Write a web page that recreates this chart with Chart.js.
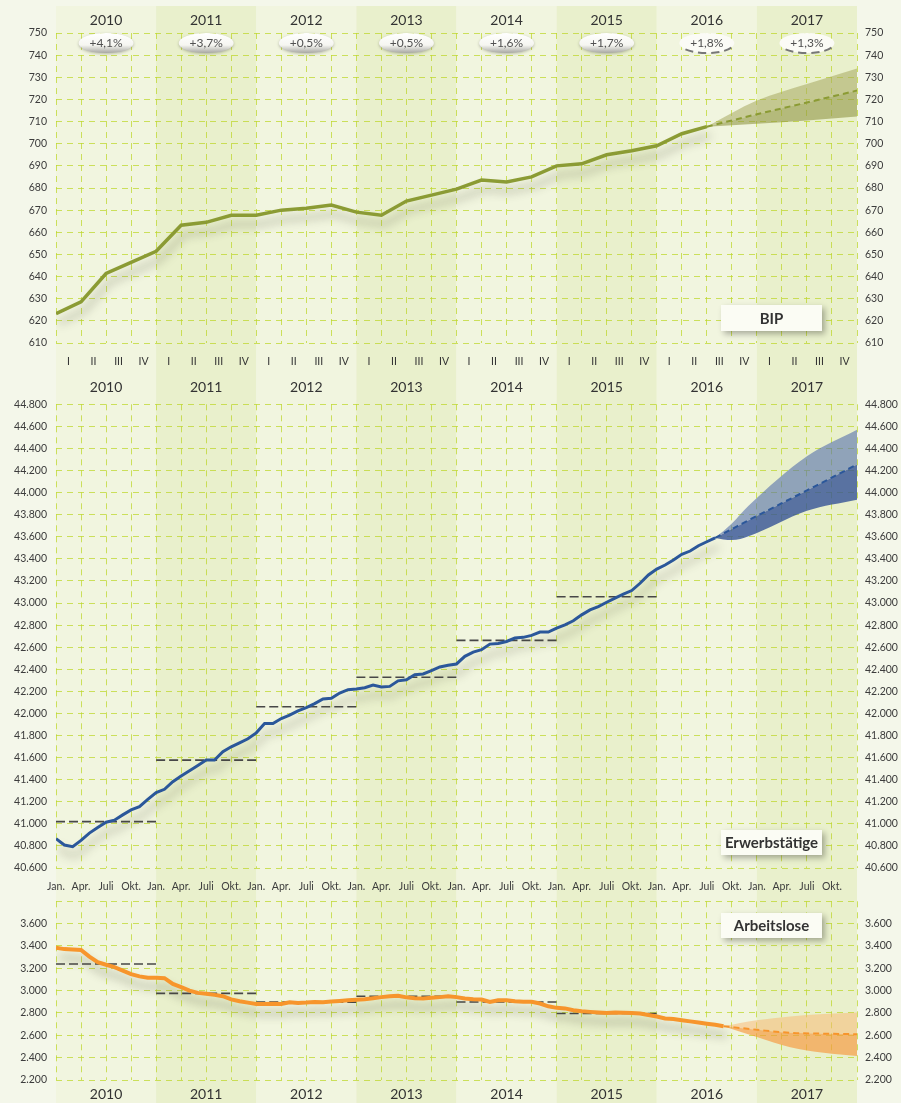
<!DOCTYPE html>
<html>
<head>
<meta charset="utf-8">
<script src="https://cdn.jsdelivr.net/npm/chart.js@4/dist/chart.umd.min.js"></script>
<style>
  body { margin: 0; background: #f4f7ea; }
  #wrap { position: relative; width: 901px; height: 1103px; overflow: hidden; }
  .panel { position: absolute; left: 0; width: 901px; }
</style>
</head>
<body>
<div id="wrap">
  <div class="panel" style="top:0;height:396px"><canvas id="bip-chart"></canvas></div>
  <div class="panel" style="top:389px;height:504px"><canvas id="erw-chart"></canvas></div>
  <div class="panel" style="top:886px;height:217px"><canvas id="alo-chart"></canvas></div>
</div>
<script>
// axis labels
var years = ["2010", "2011", "2012", "2013", "2014", "2015", "2016", "2017"];
var quarterLabels = ["I", "II", "III", "IV"];
var monthLabels = ["Jan.", "Apr.", "Juli", "Okt."];

// yearly growth of the BIP (2016/2017 forecast)
var growthRates = [4.1, 3.7, 0.5, 0.5, 1.6, 1.7, 1.8, 1.3];
var growthForecast = [false, false, false, false, false, false, true, true];

// BIP, quarterly, from Q1 2010
var bipValues = [623.2, 628.6, 641.4, 646.4, 651.4, 663.2, 664.5, 667.7, 667.7, 670, 670.9, 672.3,
    669.1, 667.7, 674.1, 676.8, 679.5, 683.6, 682.7, 685, 690, 690.9, 695, 696.8, 699.1, 704.5, 707.7];
var bipForecastMonths = [78, 84, 90, 96];
var bipForecast = [707.7, 713.3, 718.6, 724];
var bipUpper = [707.7, 719.5, 727, 734];
var bipLower = [707.7, 709, 710.5, 712.3];

// Erwerbstaetige, monthly, from Jan 2010 (thousand)
var erwValues = [40865, 40808, 40793, 40850, 40916, 40967, 41015, 41033, 41081, 41126, 41156, 41222,
    41283, 41313, 41382, 41433, 41481, 41529, 41578, 41578, 41653, 41698, 41734, 41770,
    41824, 41908, 41908, 41954, 41984, 42023, 42053, 42089, 42131, 42137, 42185, 42215,
    42221, 42233, 42257, 42239, 42245, 42295, 42305, 42350, 42358, 42388, 42421, 42436,
    42448, 42517, 42556, 42577, 42628, 42634, 42652, 42683, 42689, 42707, 42737, 42737,
    42773, 42803, 42839, 42893, 42938, 42968, 43007, 43044, 43080, 43113, 43179, 43254,
    43308, 43344, 43389, 43441, 43471, 43519, 43555, 43590];
var erwAnnual = [41020, 41577, 42060, 42328, 42662, 43057];
var erwForecastMonths = [79, 81, 83, 90, 96];
var erwForecast = [43590, 43670, 43750, 44020, 44255];
var erwUpper = [43590, 43720, 43880, 44330, 44570];
var erwLower = [43590, 43570, 43605, 43835, 43935];

// Arbeitslose, monthly, from Jan 2010 (thousand)
var aloValues = [3385, 3372, 3368, 3365, 3305, 3255, 3232, 3210, 3180, 3148, 3128, 3115,
    3115, 3112, 3060, 3032, 3000, 2980, 2973, 2962, 2950, 2922, 2905, 2893,
    2881, 2880, 2883, 2880, 2895, 2890, 2893, 2898, 2897, 2903, 2908, 2913,
    2918, 2923, 2932, 2942, 2950, 2955, 2940, 2932, 2930, 2936, 2942, 2950,
    2942, 2930, 2923, 2920, 2898, 2914, 2915, 2905, 2900, 2900, 2885, 2860,
    2846, 2841, 2825, 2815, 2810, 2805, 2800, 2805, 2802, 2799, 2796, 2782,
    2768, 2751, 2746, 2735, 2725, 2714, 2704, 2695, 2682];
var aloAnnual = [3239, 2976, 2897, 2950, 2898, 2795];
var aloForecastMonths = [80, 84, 88, 92, 96];
var aloForecast = [2682, 2650, 2622, 2615, 2610];
var aloUpper = [2682, 2735, 2768, 2790, 2805];
var aloLower = [2682, 2585, 2493, 2443, 2415];

var gridColor = "rgba(190,215,45,0.75)";
var textColor = "#3c3c3c";
Chart.defaults.font.family = "Lato";

function points(xs, ys) {
    return ys.map(function (v, i) { return { x: xs[i], y: v }; });
}

function monthIndex(values, step) {
    return values.map(function (v, i) { return i * step; });
}

function dotted(v) {
    return String(v).replace(/\B(?=(\d{3})+(?!\d))/g, ".");
}

// ticks on the quarter boundaries / the middle of quarters / middle of years
function quarterTicks(scale) {
    var t = [];
    for (var m = 0; m <= 96; m += 3) t.push({ value: m });
    scale.ticks = t;
}
function quarterMidTicks(scale) {
    var t = [];
    for (var m = 1.5; m < 96; m += 3) t.push({ value: m });
    scale.ticks = t;
}
function yearMidTicks(scale) {
    scale.ticks = years.map(function (y, i) { return { value: i * 12 + 6 }; });
}

function annualLines(values) {
    return values.map(function (v, k) {
        return {
            data: [{ x: k * 12, y: v }, { x: k * 12 + 12, y: v }],
            borderColor: "#474747", borderWidth: 1.6, borderDash: [9, 4],
            pointRadius: 0, order: 3
        };
    });
}

function seriesSets(color, xs, values, fxs, mean, upper, lower, upperFill, lowerFill, width) {
    var curve = { tension: 0.3, cubicInterpolationMode: "monotone", pointRadius: 0 };
    return [
        { data: points(xs, values), borderColor: color, borderWidth: width, pointRadius: 0,
          tension: 0, shadow: true, order: 1 },
        Object.assign({ data: points(fxs, mean), borderColor: color, borderWidth: 2,
          borderDash: [6, 4], order: 2 }, curve),
        Object.assign({ data: points(fxs, upper), borderWidth: 0,
          backgroundColor: upperFill, fill: 1, order: 5 }, curve),
        Object.assign({ data: points(fxs, lower), borderWidth: 0,
          backgroundColor: lowerFill, fill: 1, order: 5 }, curve)
    ];
}

var bandPlugin = {
    id: "yearBands",
    beforeDraw: function (chart, args, opts) {
        var ctx = chart.ctx, x = chart.scales.x, top = opts.top || 0;
        ctx.save();
        for (var k = 0; k < years.length; k++) {
            var x0 = x.getPixelForValue(k * 12), x1 = x.getPixelForValue(k * 12 + 12);
            ctx.fillStyle = k % 2 ? "#e9f0cc" : "#f1f5df";
            ctx.fillRect(x0, top, x1 - x0, chart.height - top);
        }
        ctx.restore();
    }
};

var shadowPlugin = {
    id: "lineShadow",
    beforeDatasetDraw: function (chart, args) {
        if (!chart.data.datasets[args.index].shadow) return;
        var ctx = chart.ctx;
        ctx.save();
        ctx.shadowColor = "rgba(70,70,50,0.38)";
        ctx.shadowBlur = 10;
        ctx.shadowOffsetX = 3;
        ctx.shadowOffsetY = 9;
    },
    afterDatasetDraw: function (chart, args) {
        if (chart.data.datasets[args.index].shadow) chart.ctx.restore();
    }
};

var tagPlugin = {
    id: "panelTag",
    afterDatasetsDraw: function (chart, args, opts) {
        var ctx = chart.ctx;
        ctx.save();
        ctx.shadowColor = "rgba(0,0,0,0.3)";
        ctx.shadowBlur = 6;
        ctx.shadowOffsetX = 3;
        ctx.shadowOffsetY = 3;
        ctx.fillStyle = "#fbfcf4";
        ctx.fillRect(opts.x, opts.y, opts.w, opts.h);
        ctx.shadowColor = "transparent";
        ctx.fillStyle = "#333";
        ctx.font = "bold 15px Lato";
        ctx.textAlign = "center";
        ctx.textBaseline = "middle";
        ctx.fillText(opts.text, opts.x + opts.w / 2, opts.y + opts.h / 2 + 1);
        ctx.restore();
    }
};

var pillPlugin = {
    id: "growthPills",
    beforeDatasetsDraw: function (chart) {
        var ctx = chart.ctx, x = chart.scales.x, y = chart.scales.y;
        var cy = (y.getPixelForValue(750) + y.getPixelForValue(740)) / 2 - 1;
        growthRates.forEach(function (r, k) {
            var cx = x.getPixelForValue(k * 12 + 6);
            var forecast = growthForecast[k];
            ctx.save();
            ctx.beginPath();
            ctx.ellipse(cx, cy, 27.5, 10, 0, 0, Math.PI * 2);
            if (!forecast) {
                var g = ctx.createLinearGradient(0, cy - 10, 0, cy + 10);
                g.addColorStop(0, "#ffffff");
                g.addColorStop(0.6, "#f6f6f1");
                g.addColorStop(1, "#a7a7a2");
                ctx.fillStyle = g;
                ctx.shadowColor = "rgba(0,0,0,0.25)";
                ctx.shadowBlur = 3;
                ctx.shadowOffsetY = 1;
            } else {
                ctx.fillStyle = "#fbfbf6";
            }
            ctx.fill();
            ctx.shadowColor = "transparent";
            if (forecast) {
                ctx.beginPath();
                ctx.ellipse(cx, cy, 27.5, 10, 0, 0.15 * Math.PI, 0.85 * Math.PI);
                ctx.setLineDash([8, 5]);
                ctx.strokeStyle = "#777";
                ctx.lineWidth = 2;
                ctx.stroke();
            }
            ctx.fillStyle = "#505050";
            ctx.font = "12px Lato";
            ctx.textAlign = "center";
            ctx.textBaseline = "middle";
            ctx.fillText("+" + r.toFixed(1).replace(".", ",") + "%", cx, cy);
            ctx.restore();
        });
    }
};

function yAxes(min, max, step, fmt) {
    var ticks = {
        stepSize: step, color: textColor, font: { size: 10.5 },
        callback: function (v) { return v === max && fmt.hideTop ? "" : fmt.f(v); }
    };
    return {
        y: { type: "linear", position: "left", min: min, max: max,
             ticks: Object.assign({ padding: 9 }, ticks),
             grid: { color: gridColor, drawTicks: false },
             border: { display: false, dash: [6, 5] },
             afterFit: function (s) { s.width = 56; } },
        y2: { type: "linear", position: "right", min: min, max: max,
              ticks: Object.assign({ padding: 8 }, ticks),
              grid: { display: false, drawTicks: false },
              border: { display: false },
              afterFit: function (s) { s.width = 44; } }
    };
}

function gridAxis(labelFn, height, padding) {
    return {
        type: "linear", position: "bottom", min: 0, max: 96, weight: 0,
        afterBuildTicks: quarterTicks,
        grid: { color: gridColor, drawTicks: false },
        border: { display: false, dash: [6, 5] },
        ticks: { display: !!labelFn, callback: labelFn || function () { return ""; },
                 autoSkip: false, maxRotation: 0, padding: padding || 0,
                 color: textColor, font: { size: 10.5 } },
        afterFit: function (s) { s.height = height; }
    };
}

function labelAxis(position, weight, build, labelFn, height, padding, size) {
    return {
        type: "linear", position: position, min: 0, max: 96, weight: weight,
        afterBuildTicks: build,
        grid: { display: false, drawTicks: false }, border: { display: false },
        ticks: { callback: labelFn, autoSkip: false, maxRotation: 0, padding: padding,
                 color: "#333", font: { size: size } },
        afterFit: function (s) { s.height = height; }
    };
}

function baseOptions(scales, plugins) {
    return {
        responsive: true, maintainAspectRatio: false, animation: false,
        layout: { padding: 0 },
        plugins: Object.assign({ legend: { display: false }, tooltip: { enabled: false } }, plugins),
        scales: scales
    };
}

var yearLabel = function (v, i) { return years[i]; };

// BIP
new Chart(document.getElementById("bip-chart"), {
    type: "line",
    data: { datasets: seriesSets("#8b9b34", monthIndex(bipValues, 3), bipValues,
        bipForecastMonths, bipForecast, bipUpper, bipLower,
        "rgba(165,167,95,0.55)", "rgba(145,150,68,0.6)", 3.5) },
    options: baseOptions(Object.assign({
        x: gridAxis(null, 0),
        xq: labelAxis("bottom", 1, quarterMidTicks, function (v, i) { return quarterLabels[i % 4]; }, 28, 12, 10.5),
        xy: labelAxis("bottom", 2, yearMidTicks, yearLabel, 25, 8, 14),
        xh: labelAxis("top", 1, yearMidTicks, yearLabel, 33, 4, 14)
    }, yAxes(610, 750, 10, { f: function (v) { return String(v); } })), {
        yearBands: { top: 6 },
        panelTag: { x: 721, y: 305, w: 101, h: 26, text: "BIP" }
    }),
    plugins: [bandPlugin, shadowPlugin, pillPlugin, tagPlugin]
});

// Erwerbstaetige (canvas starts 7px above the panel so the bands begin at the panel edge)
new Chart(document.getElementById("erw-chart"), {
    type: "line",
    data: { datasets: seriesSets("#2b579a", monthIndex(erwValues, 1), erwValues,
        erwForecastMonths, erwForecast, erwUpper, erwLower,
        "rgba(85,112,172,0.6)", "rgba(52,82,150,0.8)", 3).concat(annualLines(erwAnnual)) },
    options: baseOptions(Object.assign({
        x: gridAxis(function (v, i) { return i < 32 ? monthLabels[i % 4] : ""; }, 25, 12)
    }, yAxes(40600, 44800, 200, { f: dotted })), {
        yearBands: { top: 7 },
        panelTag: { x: 721, y: 441, w: 101, h: 25, text: "Erwerbstätige" }
    }),
    plugins: [bandPlugin, shadowPlugin, tagPlugin]
});

// Arbeitslose
new Chart(document.getElementById("alo-chart"), {
    type: "line",
    data: { datasets: seriesSets("#f7952c", monthIndex(aloValues, 1), aloValues,
        aloForecastMonths, aloForecast, aloUpper, aloLower,
        "rgba(250,182,110,0.5)", "rgba(247,150,60,0.65)", 4).concat(annualLines(aloAnnual)) },
    options: baseOptions(Object.assign({
        x: gridAxis(null, 0),
        xy: labelAxis("bottom", 2, yearMidTicks, yearLabel, 23, 6, 14)
    }, yAxes(2200, 3800, 200, { f: dotted, hideTop: true })), {
        yearBands: { top: 7 },
        panelTag: { x: 721, y: 27, w: 101, h: 25, text: "Arbeitslose" }
    }),
    plugins: [bandPlugin, shadowPlugin, tagPlugin]
});
</script>
</body>
</html>
